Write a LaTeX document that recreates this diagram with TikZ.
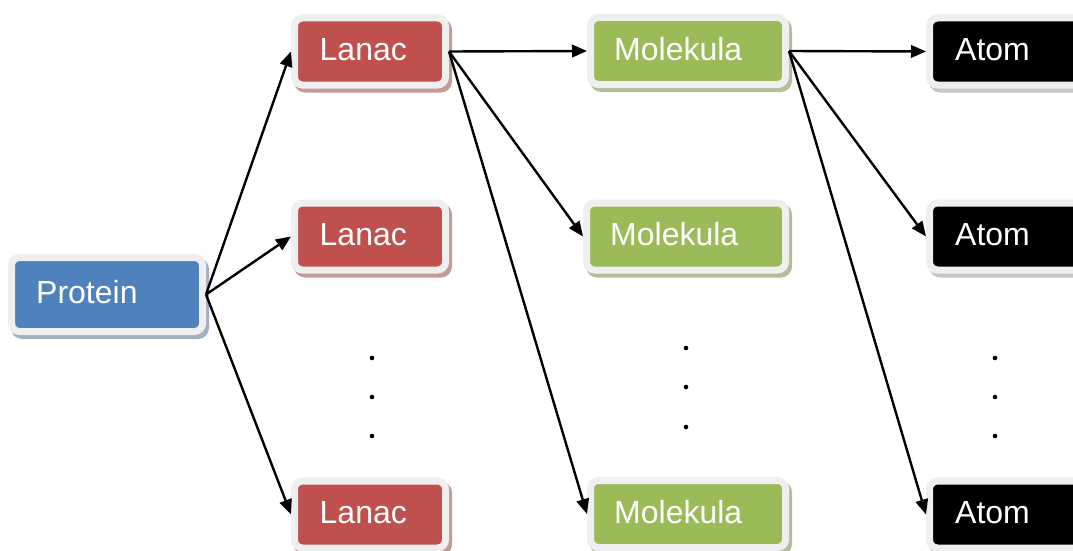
\documentclass[tikz,border=0pt]{standalone}
\usepackage{fontspec}
\setmainfont{Liberation Sans}
\usetikzlibrary{arrows.meta,backgrounds}

\definecolor{protblue}{HTML}{4F81BD}
\definecolor{lanred}{HTML}{C0504D}
\definecolor{molgreen}{HTML}{9BBB59}
\definecolor{atomblack}{HTML}{000000}
\definecolor{framegray}{HTML}{EFEFEF}
\definecolor{protshadow}{HTML}{A3AFC2}
\definecolor{lanshadow}{HTML}{C49A99}
\definecolor{molshadow}{HTML}{B3BE9A}
\definecolor{atomshadow}{HTML}{C6C6C6}

\tikzset{
  box/.style={draw=framegray, line width=7pt, rounded corners=8pt,
    inner sep=0pt, minimum height=67pt,
    label={[anchor=west, xshift=#1, yshift=2pt, inner sep=0pt, text=white,
      font=\fontsize{32}{36}\selectfont]west:\boxtext}},
  protbox/.style={box=28pt, fill=protblue, minimum width=191pt, minimum height=74pt},
  lanbox/.style={box=28.5pt, fill=lanred, minimum width=151pt},
  molbox/.style={box=27pt, fill=molgreen, minimum width=195pt},
  atombox/.style={box=29pt, fill=atomblack, minimum width=157pt},
  link/.style={line width=2.4pt, -{Triangle[length=15pt,width=12.5pt]}},
  dot/.style={fill=black},
}

\begin{document}
\begin{tikzpicture}[x=1pt, y=-1pt]
  \useasboundingbox (0,0) rectangle (1073,551);
  \clip (0,0) rectangle (1073,551);

  % boxes
  \def\boxtext{Protein}
  \node[protbox] (P) at (107,294.5) {};
  \def\boxtext{Lanac}
  \node[lanbox] (L1) at (370,51.5) {};
  \node[lanbox] (L2) at (370,236.5) {};
  \node[lanbox] (L3) at (370,514.5) {};
  \def\boxtext{Molekula}
  \node[molbox] (M1) at (688,51) {};
  \node[molbox, minimum width=199pt] (M2) at (686,236.5) {};
  \node[molbox] (M3) at (688,514) {};
  \def\boxtext{Atom}
  \node[atombox] (A1) at (1008,51.5) {};
  \node[atombox] (A2) at (1008,236.5) {};
  \node[atombox] (A3) at (1008,514.5) {};

  % drop shadows under the frames
  \begin{scope}[on background layer]
    \foreach \n/\c in {P/protshadow, L1/lanshadow, L2/lanshadow, L3/lanshadow,
                       M1/molshadow, M2/molshadow, M3/molshadow,
                       A1/atomshadow, A2/atomshadow, A3/atomshadow}
      \fill[\c, rounded corners=11pt]
        ([shift={(3,4)}]\n.north west) rectangle ([shift={(3,4)}]\n.south east);
  \end{scope}

  % connectors
  \foreach \t in {L1,L2,L3} \draw[link] (P.east) -- (\t.west);
  \foreach \t in {M1,M2,M3} \draw[link] (L1.east) -- (\t.west);
  \foreach \t in {A1,A2,A3} \draw[link] (M1.east) -- (\t.west);

  % vertical ellipses
  \foreach \y in {358,397,436} {
    \fill[dot] (372,\y) circle (2.3pt);
    \fill[dot] (995,\y) circle (2.3pt);
  }
  \foreach \y in {348,387,427} \fill[dot] (686,\y) circle (2.3pt);
\end{tikzpicture}
\end{document}
